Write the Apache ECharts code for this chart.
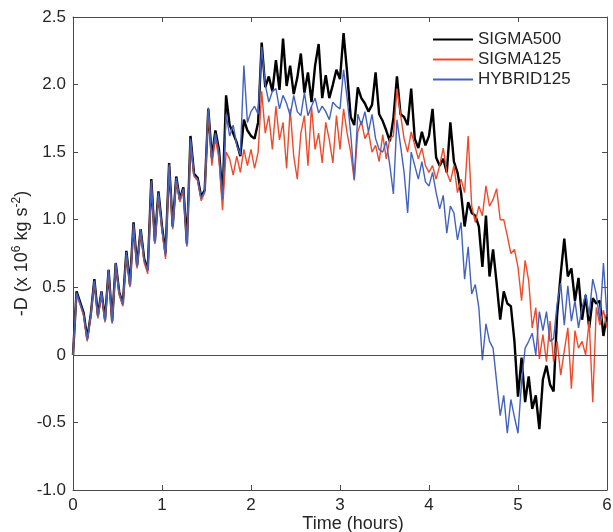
<!DOCTYPE html>
<html>
<head>
<meta charset="utf-8">
<script src="https://cdn.jsdelivr.net/npm/echarts@6/dist/echarts.min.js"></script>
<style>
  html, body { margin: 0; padding: 0; background: #fff; }
  #DragChart { width: 613px; height: 532px; }
</style>
</head>
<body>
<div id="DragChart"></div>
<script>
// sampled every 0.04 h, from t = 0 to t = 6
const TIME_STEP = 0.04;

const SIGMA500 = [
  0.00, 0.47, 0.39, 0.31, 0.12, 0.30, 0.56, 0.29, 0.47, 0.26,
  0.63, 0.25, 0.68, 0.46, 0.38, 0.77, 0.52, 0.98, 0.66, 0.93,
  0.71, 0.63, 1.30, 0.84, 1.21, 0.95, 0.75, 1.42, 0.95, 1.32,
  1.15, 1.24, 0.82, 1.62, 1.34, 1.31, 1.17, 1.22, 1.82, 1.46,
  1.66, 1.52, 1.16,
  1.92, 1.70, 1.64, 1.57, 1.47, 1.74, 1.66, 1.62, 1.60, 1.72,
  2.31, 1.98, 2.06, 1.95, 2.18, 1.96, 2.34, 1.99, 2.14, 1.93,
  2.05, 2.23, 1.94, 2.09, 1.87, 2.14, 2.30, 1.90, 2.07, 1.90,
  2.00, 2.11, 2.04, 2.38, 2.09, 1.76, 1.70, 1.98, 1.90, 1.86,
  1.80, 1.85, 2.09, 1.78, 1.73, 1.66, 1.58, 1.75, 2.06, 1.78,
  1.76, 1.70, 1.97, 1.60, 1.53, 1.65, 1.55, 1.62, 1.82, 1.46,
  1.40, 1.45, 1.35, 1.72, 1.43, 1.35, 1.20, 0.95, 1.13, 1.05,
  1.03, 0.95, 0.65, 1.03, 0.58, 0.78, 0.53, 0.26, 0.47, 0.38,
  0.36, 0.10, -0.31, -0.02, -0.35, -0.16, -0.40, -0.30, -0.55, -0.18,
  -0.08, -0.22, -0.27, 0.30, 0.60, 0.86, 0.58, 0.64, 0.40, 0.57,
  0.26, 0.44, 0.20, 0.42, 0.38, 0.40, 0.14, 0.30
];

const SIGMA125 = [
  0.00, 0.45, 0.37, 0.29, 0.10, 0.29, 0.54, 0.27, 0.45, 0.24,
  0.61, 0.23, 0.66, 0.44, 0.36, 0.74, 0.50, 0.95, 0.64, 0.91,
  0.68, 0.60, 1.26, 0.82, 1.18, 0.92, 0.71, 1.39, 0.93, 1.29,
  1.13, 1.22, 0.80, 1.58, 1.32, 1.29, 1.14, 1.20, 1.80, 1.40,
  1.60, 1.45, 1.07,
  1.50, 1.45, 1.33, 1.47, 1.35, 1.52, 1.40, 1.52, 1.38, 1.50,
  1.95, 1.64, 1.77, 1.52, 1.84, 1.59, 1.72, 1.38, 1.82, 1.47,
  1.30, 1.64, 1.77, 1.40, 1.84, 1.52, 1.64, 1.42, 1.72, 1.59,
  1.42, 1.77, 1.52, 1.82, 1.64, 1.50, 1.29, 1.65, 1.73, 1.60,
  1.65, 1.50, 1.55, 1.43, 1.63, 1.45, 1.60, 1.62, 1.97, 1.78,
  1.60, 1.50, 1.65, 1.55, 1.45, 1.53, 1.40, 1.35, 1.40, 1.30,
  1.40, 1.53, 1.35, 1.28, 1.40, 1.20, 1.30, 1.20, 1.62, 1.10,
  0.98, 1.10, 1.03, 1.25, 1.10, 1.15, 1.23, 1.00, 1.00, 0.88,
  0.75, 0.78, 0.65, 0.40, 0.70, 0.55, 0.20, 0.35, -0.03, 0.15,
  -0.05, 0.25, -0.05, 0.10, -0.15, 0.03, 0.20, -0.25, 0.18, 0.05,
  0.10, 0.00, 0.25, -0.35, 0.35, 0.22, 0.33, 0.20
];

const HYBRID125 = [
  0.00, 0.46, 0.38, 0.30, 0.11, 0.30, 0.55, 0.28, 0.47, 0.25,
  0.63, 0.24, 0.68, 0.46, 0.37, 0.76, 0.51, 0.97, 0.65, 0.93,
  0.70, 0.62, 1.29, 0.83, 1.20, 0.94, 0.73, 1.41, 0.94, 1.31,
  1.15, 1.23, 0.81, 1.60, 1.33, 1.30, 1.16, 1.21, 1.83, 1.44,
  1.64, 1.50, 1.15,
  1.78, 1.62, 1.70, 1.55, 1.48, 2.14, 1.72, 1.80, 1.84, 1.78,
  2.28, 2.00, 1.87, 1.95, 1.97, 1.82, 1.92, 1.86, 1.77, 1.92,
  1.80, 1.77, 1.94, 1.77, 1.84, 1.90, 1.79, 1.84, 1.80, 1.74,
  1.87, 1.84, 1.82, 2.11, 1.90, 1.64, 1.30, 1.78, 1.70, 1.80,
  1.65, 1.78, 1.60, 1.52, 1.50, 1.58, 1.40, 1.19, 1.74, 1.55,
  1.35, 1.05, 1.50, 1.40, 1.30, 1.43, 1.28, 1.25, 1.35, 1.20,
  1.08, 1.18, 0.90, 1.10, 1.05, 0.85, 0.98, 0.56, 0.80, 0.45,
  0.52, 0.35, -0.04, 0.23, 0.10, 0.05, -0.20, -0.45, -0.30, -0.58,
  -0.33, -0.46, -0.58, -0.20, 0.05, 0.10, 0.16, 0.00, 0.32, 0.18,
  0.32, 0.10, 0.12, 0.38, 0.53, 0.22, 0.51, 0.25, 0.40, 0.20,
  0.35, 0.45, 0.30, 0.56, 0.45, 0.25, 0.68, 0.28
];

const X_TICKS = [0, 1, 2, 3, 4, 5, 6];
const Y_TICKS = [-1.0, -0.5, 0, 0.5, 1.0, 1.5, 2.0, 2.5];

const FONT = "'Liberation Sans', Arial, sans-serif";
const AXIS_COLOR = '#4a4a4a';
const TEXT_COLOR = '#262626';

function withTime(values) {
  return values.map((v, i) => [+(i * TIME_STEP).toFixed(2), v]);
}

const chartDom = document.getElementById('DragChart');
const myChart = echarts.init(chartDom, null, { renderer: 'canvas' });

const baseX = {
  type: 'value',
  min: X_TICKS[0],
  max: X_TICKS[X_TICKS.length - 1],
  interval: 1,
  splitLine: { show: false },
  axisLine: { show: true, onZero: false, lineStyle: { color: AXIS_COLOR, width: 1 } },
  axisTick: { show: true, inside: true, length: 5, lineStyle: { color: AXIS_COLOR } }
};
const baseY = {
  type: 'value',
  min: Y_TICKS[0],
  max: Y_TICKS[Y_TICKS.length - 1],
  interval: 0.5,
  splitLine: { show: false },
  axisLine: { show: true, onZero: false, lineStyle: { color: AXIS_COLOR, width: 1 } },
  axisTick: { show: true, inside: true, length: 5, lineStyle: { color: AXIS_COLOR } }
};

const option = {
  animation: false,
  backgroundColor: '#fff',
  textStyle: { fontFamily: FONT },
  grid: { left: 73, right: 6, top: 17, bottom: 42, outerBoundsMode: 'none', containLabel: false },
  legend: {
    orient: 'vertical',
    left: 427,
    top: 26,
    itemWidth: 40,
    itemHeight: 12,
    itemGap: 3,
    itemStyle: { color: 'transparent', borderWidth: 0, opacity: 0 },
    textStyle: { fontFamily: FONT, fontSize: 17, color: TEXT_COLOR },
    data: ['SIGMA500', 'SIGMA125', 'HYBRID125']
  },
  xAxis: [
    Object.assign({}, baseX, {
      position: 'bottom',
      axisLabel: { fontFamily: FONT, fontSize: 17, color: TEXT_COLOR, margin: 7 },
      name: 'Time (hours)',
      nameLocation: 'middle',
      nameMoveOverlap: false,
      nameGap: 25,
      nameTextStyle: { fontFamily: FONT, fontSize: 18, color: TEXT_COLOR, padding: [0, 0, 0, 26] }
    }),
    Object.assign({}, baseX, { position: 'top', axisLabel: { show: false } })
  ],
  yAxis: [
    Object.assign({}, baseY, {
      position: 'left',
      axisLabel: {
        fontFamily: FONT, fontSize: 17, color: TEXT_COLOR, margin: 7,
        formatter: v => (v === 0 ? '0' : v.toFixed(1))
      },
      name: '{a|-D (x 10}{sup|6}{a| kg s}{sup|-2}{a|)}',
      nameLocation: 'middle',
      nameMoveOverlap: false,
      nameRotate: 90,
      nameGap: 40,
      nameTextStyle: {
        rich: {
          a: { fontFamily: FONT, fontSize: 18, color: TEXT_COLOR, lineHeight: 22 },
          sup: { fontFamily: FONT, fontSize: 12, color: TEXT_COLOR, verticalAlign: 'top', lineHeight: 22, padding: [0, 0, 7, 0] }
        }
      }
    }),
    Object.assign({}, baseY, { position: 'right', axisLabel: { show: false } })
  ],
  series: [
    {
      name: 'SIGMA500',
      type: 'line',
      data: withTime(SIGMA500),
      symbol: 'none',
      lineStyle: { color: '#000000', width: 2.4 },
      itemStyle: { color: '#000000' },
      z: 2,
      markLine: {
        silent: true,
        symbol: 'none',
        label: { show: false },
        lineStyle: { color: AXIS_COLOR, width: 1, type: 'solid' },
        data: [{ yAxis: 0 }]
      }
    },
    {
      name: 'SIGMA125',
      type: 'line',
      data: withTime(SIGMA125),
      symbol: 'none',
      lineStyle: { color: '#ee4b2b', width: 1.4 },
      itemStyle: { color: '#ee4b2b' },
      z: 3
    },
    {
      name: 'HYBRID125',
      type: 'line',
      data: withTime(HYBRID125),
      symbol: 'none',
      lineStyle: { color: '#4262c0', width: 1.4 },
      itemStyle: { color: '#4262c0' },
      z: 4
    }
  ]
};

option && myChart.setOption(option);
window.addEventListener('resize', myChart.resize);
</script>
</body>
</html>
